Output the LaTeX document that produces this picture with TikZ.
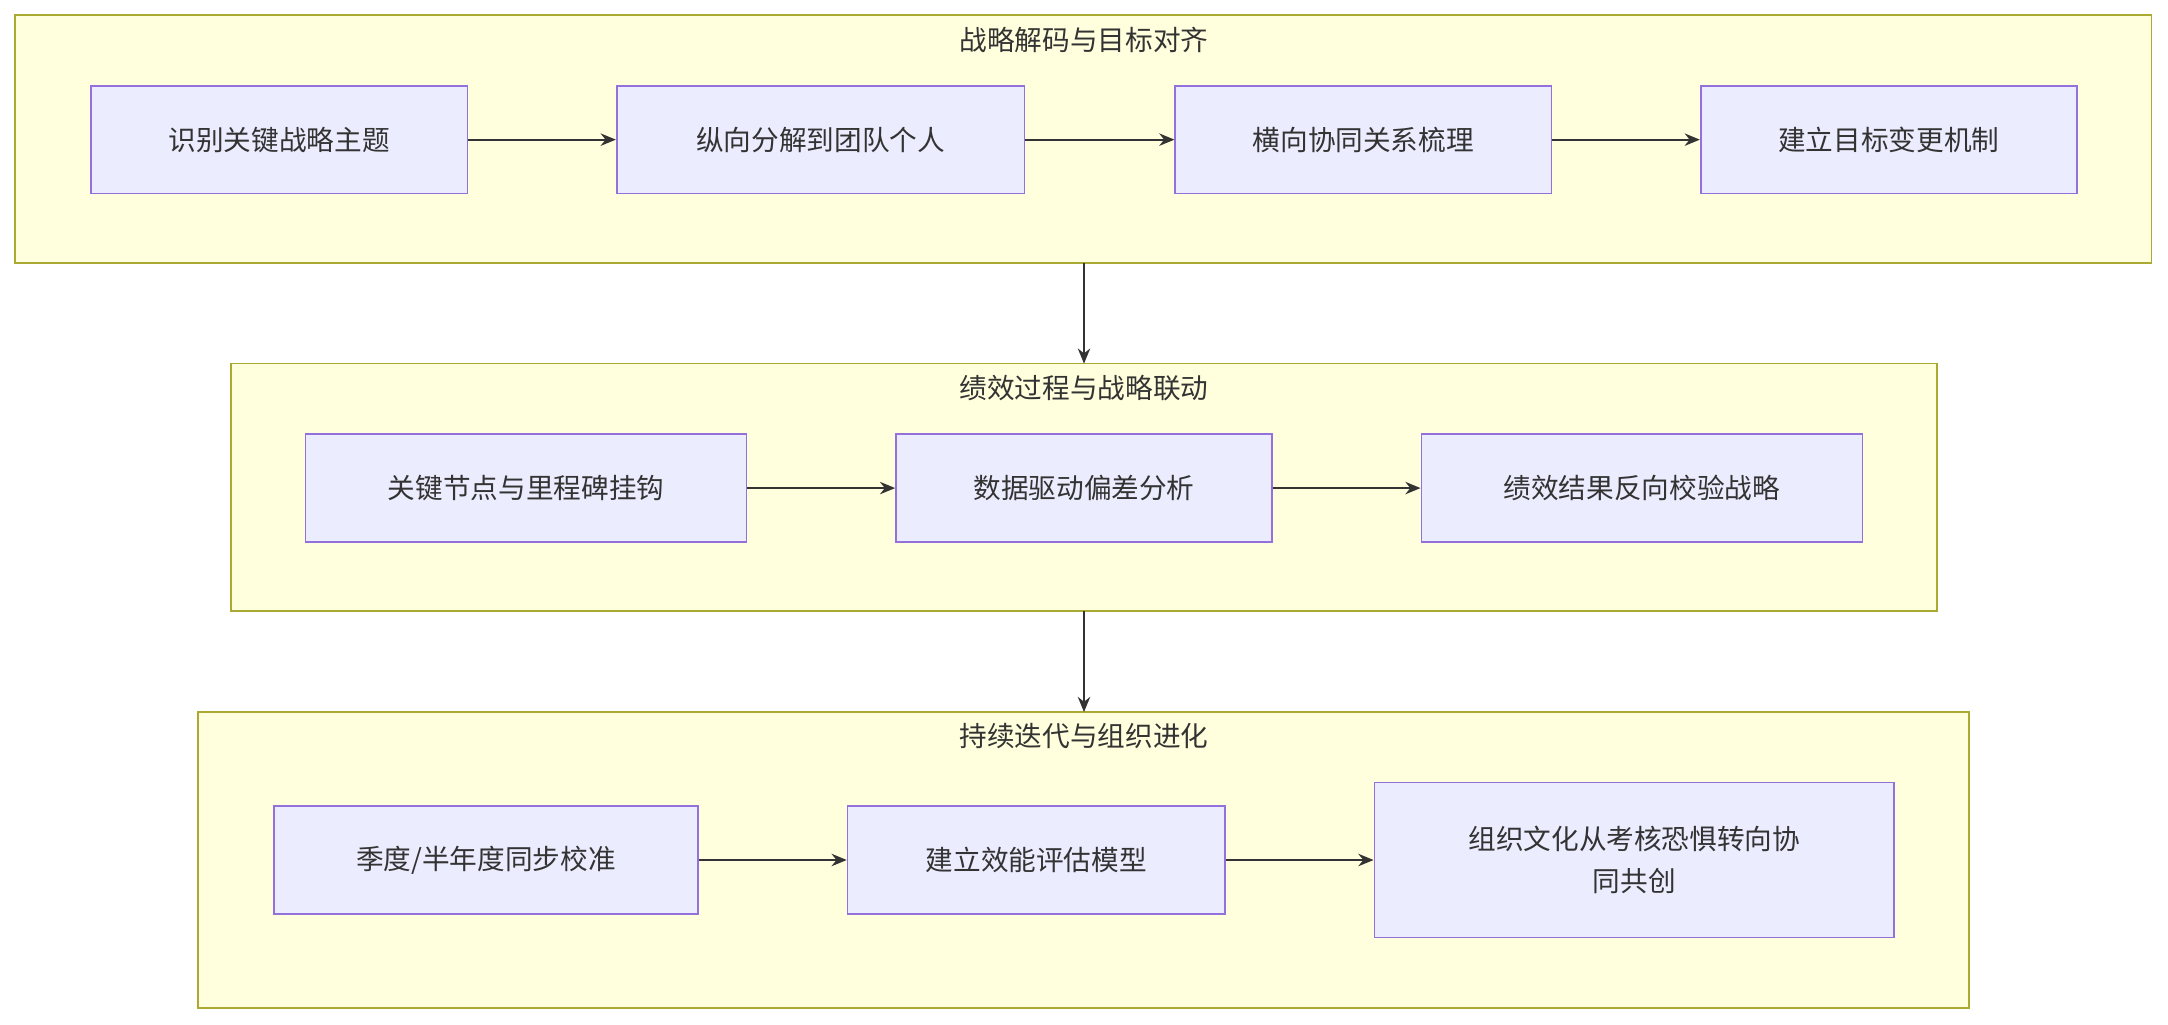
\documentclass[tikz,border=0pt]{standalone}
\usepackage{fontspec}
\setmainfont{Noto Sans CJK SC}
\usetikzlibrary{arrows.meta}
\definecolor{gfill}{HTML}{FFFFDE}
\definecolor{gdraw}{HTML}{AAAA33}
\definecolor{nfill}{HTML}{ECECFF}
\definecolor{ndraw}{HTML}{9370DB}
\definecolor{txt}{HTML}{333333}
\begin{document}
\begin{tikzpicture}[x=1pt,y=-1pt,
  grp/.style={draw=gdraw,fill=gfill,line width=1.2pt},
  gt/.style={text=txt,font=\fontsize{20}{24}\selectfont},
  box/.style={draw=ndraw,fill=nfill,line width=1.2pt,text=txt,font=\fontsize{20}{30}\selectfont,align=center,inner sep=0pt},
  arr/.style={draw=txt,line width=1.3pt,-{Stealth[length=11pt,width=9pt]}}]
\useasboundingbox (0,0) rectangle (1568,741);
\draw[grp] (11,11) rectangle (1556,190);
\draw[grp] (167,263) rectangle (1401,442);
\draw[grp] (143,515) rectangle (1424,729);
\node[gt] (t1) at (784,29) {战略解码与目标对齐};
\node[gt] (t2) at (784,281) {绩效过程与战略联动};
\node[gt] (t3) at (784,532) {持续迭代与组织进化};
\node[box,minimum width=272pt,minimum height=78pt] (a) at (202,101) {识别关键战略主题};
\node[box,minimum width=295pt,minimum height=78pt] (b) at (593.5,101) {纵向分解到团队个人};
\node[box,minimum width=272pt,minimum height=78pt] (c) at (986,101) {横向协同关系梳理};
\node[box,minimum width=272pt,minimum height=78pt] (d) at (1366,101) {建立目标变更机制};
\node[box,minimum width=319pt,minimum height=78pt] (e) at (380.5,353) {关键节点与里程碑挂钩};
\node[box,minimum width=272pt,minimum height=78pt] (f) at (784,353) {数据驱动偏差分析};
\node[box,minimum width=319pt,minimum height=78pt] (g) at (1187.5,353) {绩效结果反向校验战略};
\node[box,minimum width=307pt,minimum height=78pt] (h) at (351.5,622) {季度/半年度同步校准};
\node[box,minimum width=273pt,minimum height=78pt] (i) at (749.5,622) {建立效能评估模型};
\node[box,minimum width=376pt,minimum height=112pt] (j) at (1182,622) {组织文化从考核恐惧转向协\\同共创};
\coordinate (g1b) at (784,190); \coordinate (g2t) at (784,263);
\coordinate (g2b) at (784,442); \coordinate (g3t) at (784,515);
\draw[arr] (a) -- (b); \draw[arr] (b) -- (c); \draw[arr] (c) -- (d);
\draw[arr] (e) -- (f); \draw[arr] (f) -- (g);
\draw[arr] (h) -- (i); \draw[arr] (i) -- (j);
\draw[arr] (g1b) -- (g2t); \draw[arr] (g2b) -- (g3t);
\end{tikzpicture}
\end{document}
